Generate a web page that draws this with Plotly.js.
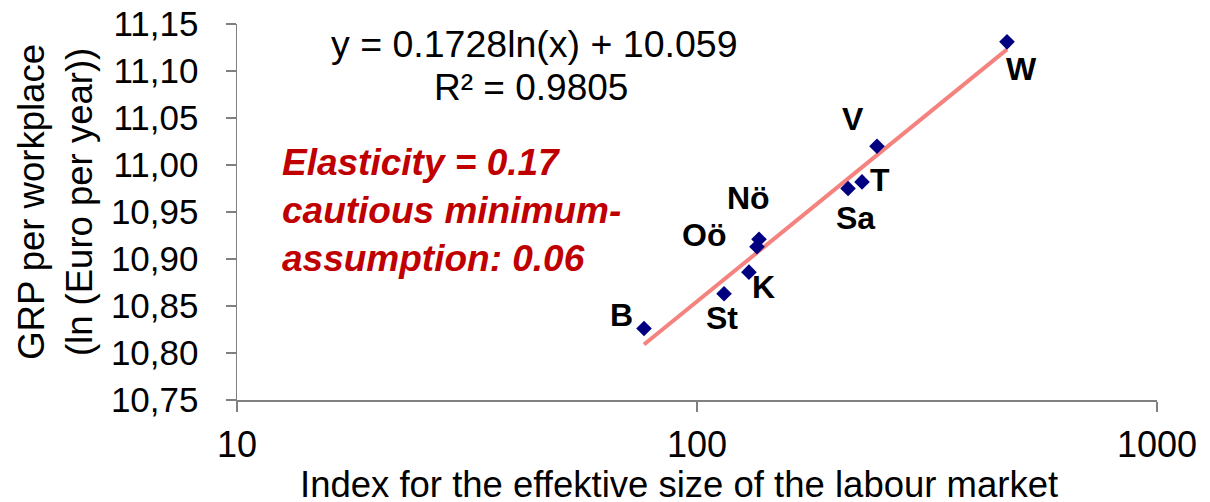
<!DOCTYPE html>
<html>
<head>
<meta charset="utf-8">
<script src="https://cdn.plot.ly/plotly-3.0.1.min.js"></script>
<style>
html,body{margin:0;padding:0;background:#fff;}
#chart{width:1210px;height:502px;}
</style>
</head>
<body>
<div id="chart"></div>
<script>
// Regions (labels), x = index for effective labour market size, y = ln GRP per workplace
const labels = ['B', 'St', 'K', 'Oö', 'Nö', 'Sa', 'T', 'V', 'W'];
const xVals = [76.7, 114.5, 129.7, 135.0, 136.4, 213, 228.4, 246.2, 472];
const yVals = [10.826, 10.863, 10.886, 10.913, 10.921, 10.975, 10.982, 11.020, 11.131];

// Logarithmic trendline endpoints (y = 0.1728 ln(x) + 10.059)
const trendX = [76.7, 472];
const trendY = [10.809, 11.123];

// Label offsets (pixels) from each point
const labelDX = [-23, -2, 15, -53, -11, 7, 18, -24, 14];
const labelDY = [14, -24, -15, 12, 41, -29, 2, 27, -27];

const xTickVals = [10, 100, 1000];
const xTickText = ['10', '100', '1000'];
const yTickVals = [10.75, 10.80, 10.85, 10.90, 10.95, 11.00, 11.05, 11.10, 11.15];
const yTickText = ['10,75', '10,80', '10,85', '10,90', '10,95', '11,00', '11,05', '11,10', '11,15'];

const FONT = 'Liberation Sans, Arial, sans-serif';

const traces = [
  {
    x: trendX, y: trendY, mode: 'lines', type: 'scatter',
    line: {color: '#F4837F', width: 4}, hoverinfo: 'skip', showlegend: false
  },
  {
    x: xVals, y: yVals, mode: 'markers', type: 'scatter',
    marker: {symbol: 'diamond', size: 12, color: '#000080'},
    showlegend: false
  }
];

const annotations = labels.map((t, i) => ({
  x: Math.log10(xVals[i]), y: yVals[i], xref: 'x', yref: 'y',
  text: '<b>' + t + '</b>', showarrow: false,
  xshift: labelDX[i], yshift: labelDY[i],
  xanchor: 'center', yanchor: 'middle',
  font: {family: FONT, size: 32, color: '#000'}
}));

annotations.push(
  {
    xref: 'paper', yref: 'paper', x: 0.3239, y: 0.9468,
    text: 'y = 0.1728ln(x) + 10.059', showarrow: false,
    xanchor: 'center', yanchor: 'middle',
    font: {family: FONT, size: 37.5, color: '#000'}
  },
  {
    xref: 'paper', yref: 'paper', x: 0.3196, y: 0.8298,
    text: 'R² = 0.9805', showarrow: false,
    xanchor: 'center', yanchor: 'middle',
    font: {family: FONT, size: 37, color: '#000'}
  },
  {
    xref: 'paper', yref: 'paper', x: 0.0467, y: 0.5053,
    text: '<b><i>Elasticity = 0.17<br>cautious minimum-<br>assumption: 0.06</i></b>',
    showarrow: false, align: 'left',
    xanchor: 'left', yanchor: 'middle',
    font: {family: FONT, size: 37, color: '#C00000'}
  },
  {
    xref: 'paper', yref: 'paper', x: 0, y: 0.527,
    xshift: -182, textangle: -90,
    text: 'GRP per workplace<br>(ln (Euro per year))',
    showarrow: false, align: 'center',
    xanchor: 'center', yanchor: 'middle',
    font: {family: FONT, size: 36.5, color: '#000'}
  },
  {
    xref: 'paper', yref: 'paper', x: 0.4804, y: 0,
    yshift: -84,
    text: 'Index for the effektive size of the labour market',
    showarrow: false,
    xanchor: 'center', yanchor: 'middle',
    font: {family: FONT, size: 36.5, color: '#000'}
  }
);

const layout = {
  width: 1210, height: 502,
  margin: {l: 237, r: 53, t: 24, b: 102, pad: 0},
  paper_bgcolor: '#fff', plot_bgcolor: '#fff',
  font: {family: FONT, color: '#000'},
  showlegend: false,
  xaxis: {
    type: 'log', range: [1, 3],
    tickmode: 'array', tickvals: xTickVals, ticktext: xTickText,
    ticks: 'outside', ticklen: 10, tickcolor: '#808080', tickwidth: 1.5,
    showline: true, linecolor: '#808080', linewidth: 1.5,
    showgrid: false, zeroline: false,
    tickfont: {family: FONT, size: 36, color: '#000'},
    ticklabelstandoff: 2
  },
  yaxis: {
    range: [10.75, 11.15],
    tickmode: 'array', tickvals: yTickVals, ticktext: yTickText,
    ticks: 'outside', ticklen: 10, tickcolor: '#808080', tickwidth: 1.5,
    showline: true, linecolor: '#808080', linewidth: 1.5,
    showgrid: false, zeroline: false,
    tickfont: {family: FONT, size: 35, color: '#000'},
    ticklabelstandoff: 20
  },
  annotations: annotations
};

Plotly.newPlot('chart', traces, layout, {staticPlot: true, displayModeBar: false});
</script>
</body>
</html>
